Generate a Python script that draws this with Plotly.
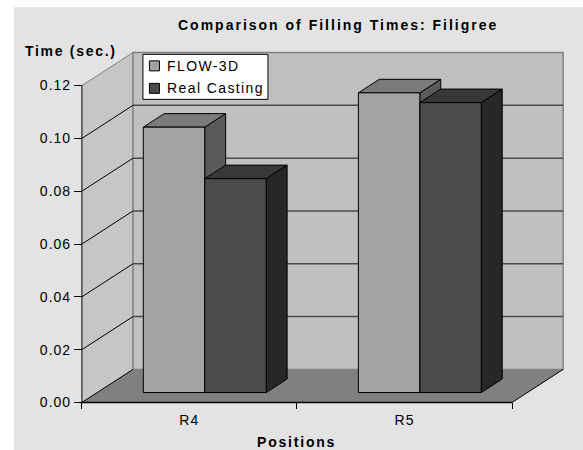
import plotly.graph_objects as go

# ---------------- data ----------------
categories = ["R4", "R5"]
series_names = ["FLOW-3D", "Real Casting"]
flow3d = [0.1005, 0.1135]
real_casting = [0.081, 0.1098]
y_ticks = [0.00, 0.02, 0.04, 0.06, 0.08, 0.10, 0.12]

# ---------------- styling / geometry ----------------
W, H = 583, 450
FONT = "Liberation Sans, Arial, sans-serif"
X0_PX, Y0_PX = 82, 402          # pixel of front origin
SX, SY = 215.0, 2640.0          # px per category unit, px per value unit
DDX = 51 / SX                   # depth offset (x) in data units
DDY = 33 / SY                   # depth offset (y) in data units
XPAD, YPAD = 0.06, 0.004
n = len(categories)
YMAX = y_ticks[-1]

x_lo, x_hi = -XPAD, n + DDX + XPAD
y_lo, y_hi = -YPAD, YMAX + DDY + YPAD
left = X0_PX + x_lo * SX
right = X0_PX + x_hi * SX
top = Y0_PX - y_hi * SY
bottom = Y0_PX - y_lo * SY


def pxx(px):
    return (px - left) / (right - left)


def pxy(py):
    return (bottom - py) / (bottom - top)


def ls(text, sp):
    return f'<span style="letter-spacing:{sp}px">{text}</span>'


GAP = 1.5                        # Excel gap width 150%
BW = 1.0 / (len(series_names) + GAP)
D0, D1 = 0.30, 0.71
colors = {
    "FLOW-3D": ("#A3A3A3", "#7B7B7B", "#5A5A5A"),
    "Real Casting": ("#4B4B4B", "#383838", "#272727"),
}
values = {"FLOW-3D": flow3d, "Real Casting": real_casting}

fig = go.Figure()


def poly(xs, ys, fill):
    fig.add_trace(go.Scatter(
        x=xs + [xs[0]], y=ys + [ys[0]], mode="lines", fill="toself",
        fillcolor=fill, line=dict(color="black", width=1),
        hoverinfo="skip", showlegend=False))


for i, cat in enumerate(categories):
    for s, name in enumerate(series_names):
        v = values[name][i]
        ul = i + GAP * BW / 2 + s * BW
        ur = ul + BW
        fx0, fy0 = D0 * DDX, D0 * DDY
        bx1, by1 = D1 * DDX, D1 * DDY
        fc, tc, sc = colors[name]
        # side face
        poly([ur + fx0, ur + bx1, ur + bx1, ur + fx0],
             [fy0, by1, v + by1, v + fy0], sc)
        # top face
        poly([ul + fx0, ur + fx0, ur + bx1, ul + bx1],
             [v + fy0, v + fy0, v + by1, v + by1], tc)
        # front face
        poly([ul + fx0, ur + fx0, ur + fx0, ul + fx0],
             [fy0, fy0, v + fy0, v + fy0], fc)

shapes = []
# outer chart-area background
shapes.append(dict(type="rect", xref="paper", yref="paper",
                   x0=pxx(14), x1=pxx(W + 10), y0=pxy(H + 10), y1=pxy(7),
                   fillcolor="#E3E3E3", line=dict(width=0), layer="below"))
# left wall
shapes.append(dict(type="path", xref="x", yref="y",
                   path=f"M0,0 L{DDX},{DDY} L{DDX},{YMAX + DDY} L0,{YMAX} Z",
                   fillcolor="#C6C6C6", line=dict(width=0), layer="below"))
# back wall
shapes.append(dict(type="rect", xref="x", yref="y",
                   x0=DDX, x1=n + DDX, y0=DDY, y1=YMAX + DDY,
                   fillcolor="#C0C0C0", line=dict(color="#808080", width=1.5),
                   layer="below"))
# floor
shapes.append(dict(type="path", xref="x", yref="y",
                   path=f"M0,0 L{n},0 L{n + DDX},{DDY} L{DDX},{DDY} Z",
                   fillcolor="#808080", line=dict(width=0), layer="below"))
# back wall gridlines
for v in y_ticks[1:-1]:
    shapes.append(dict(type="line", xref="x", yref="y",
                       x0=DDX, x1=n + DDX, y0=v + DDY, y1=v + DDY,
                       line=dict(color="#4A4A4A", width=1.5), layer="below"))
# left wall gridlines
for v in y_ticks:
    shapes.append(dict(type="line", xref="x", yref="y",
                       x0=0, x1=DDX, y0=v, y1=v + DDY,
                       line=dict(color="#808080" if v == YMAX else "black",
                                 width=1), layer="below"))
# floor right edge
shapes.append(dict(type="line", xref="x", yref="y",
                   x0=n, x1=n + DDX, y0=0, y1=DDY,
                   line=dict(color="black", width=1), layer="below"))
# front x axis line
shapes.append(dict(type="line", xref="x", yref="y",
                   x0=0, x1=n, y0=0, y1=0,
                   line=dict(color="black", width=1.5), layer="below"))
# y axis line
shapes.append(dict(type="line", xref="x", yref="y",
                   x0=0, x1=0, y0=0, y1=YMAX,
                   line=dict(color="black", width=1), layer="below"))

# legend (box, swatches)
shapes.append(dict(type="rect", xref="paper", yref="paper",
                   x0=pxx(143), x1=pxx(268), y0=pxy(99), y1=pxy(54),
                   fillcolor="white", line=dict(color="black", width=1),
                   layer="above"))
leg_y = [65.5, 88]
for name, ly in zip(series_names, leg_y):
    shapes.append(dict(type="rect", xref="paper", yref="paper",
                       x0=pxx(149.5), x1=pxx(159.5), y0=pxy(ly + 5), y1=pxy(ly - 5),
                       fillcolor=colors[name][0], line=dict(color="black", width=1),
                       layer="above"))

annotations = [
    dict(text=ls("<b>Comparison of Filling Times: Filigree</b>", 2),
         xref="paper", yref="paper", x=pxx(338), y=pxy(25),
         xanchor="center", yanchor="middle", showarrow=False,
         font=dict(family=FONT, size=14, color="black")),
    dict(text=ls("<b>Time (sec.)</b>", 1.7),
         xref="paper", yref="paper", x=pxx(23), y=pxy(51),
         xanchor="left", yanchor="middle", showarrow=False,
         font=dict(family=FONT, size=14, color="black")),
    dict(text=ls("<b>Positions</b>", 1.8),
         xref="paper", yref="paper", x=pxx(297), y=pxy(442),
         xanchor="center", yanchor="middle", showarrow=False,
         font=dict(family=FONT, size=14, color="black")),
]
for name, ly in zip(series_names, leg_y):
    annotations.append(dict(text=ls(name, 1.4), xref="paper", yref="paper",
                            x=pxx(165), y=pxy(ly), xanchor="left",
                            yanchor="middle", showarrow=False,
                            font=dict(family=FONT, size=14, color="black")))

fig.update_layout(
    width=W, height=H,
    margin=dict(l=left, r=W - right, t=top, b=H - bottom, pad=0, autoexpand=False),
    paper_bgcolor="white", plot_bgcolor="rgba(0,0,0,0)",
    showlegend=False,
    shapes=shapes, annotations=annotations,
    xaxis=dict(range=[x_lo, x_hi], domain=[0, 1], anchor="free",
               position=pxy(Y0_PX), showgrid=False, zeroline=False,
               showline=False, tickmode="array",
               tickvals=[i + 0.5 for i in range(n)],
               ticktext=[ls(c, 1.2) for c in categories], ticks="",
               ticklabelstandoff=8,
               minor=dict(tickmode="array", tickvals=list(range(n + 1)),
                          ticks="outside", ticklen=6, tickcolor="black",
                          tickwidth=1, showgrid=False),
               tickfont=dict(family=FONT, size=14, color="black"),
               fixedrange=True),
    yaxis=dict(range=[y_lo, y_hi], domain=[0, 1], anchor="free",
               position=pxx(X0_PX), showgrid=False, zeroline=False,
               showline=False, tickmode="array", tickvals=y_ticks,
               ticktext=[ls(f"{v:.2f}", 1) for v in y_ticks],
               ticks="outside", ticklen=8, tickcolor="black", tickwidth=1,
               tickfont=dict(family=FONT, size=14, color="black"),
               fixedrange=True),
)

fig.write_html(
    "out.html",
    config={"displayModeBar": False},
    post_script="document.body.style.margin='0';document.body.style.overflow='hidden';",
)
